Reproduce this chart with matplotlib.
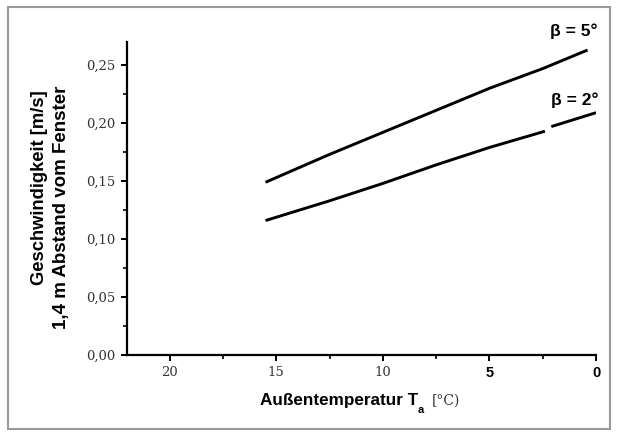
import matplotlib
matplotlib.use("Agg")
import matplotlib.pyplot as plt
from matplotlib.patches import Rectangle
from matplotlib.ticker import MultipleLocator, FixedLocator

# -----------------------------------------
# DATA
# -----------------------------------------

T_BETA5 = [15.5, 12.5, 10.0, 7.5, 5.0, 2.5, 0.4]
V_BETA5 = [0.149, 0.173, 0.192, 0.211, 0.230, 0.247, 0.263]

# beta = 2 has a small gap near 2.3 degC in the original
T_BETA2_A = [15.5, 12.5, 10.0, 7.5, 5.0, 2.4]
V_BETA2_A = [0.116, 0.133, 0.148, 0.164, 0.179, 0.193]
T_BETA2_B = [2.1, 0.0]
V_BETA2_B = [0.197, 0.209]

Y_TICKS = [0.00, 0.05, 0.10, 0.15, 0.20, 0.25]
Y_TICK_LABELS = ["0,00", "0,05", "0,10", "0,15", "0,20", "0,25"]
X_TICKS = [20, 15, 10, 5, 0]
X_TICK_LABELS = ["20", "15", "10", "5", "0"]

# -----------------------------------------
# Plot
# -----------------------------------------

fig = plt.figure(figsize=(6.19, 4.32), dpi=100)
ax = fig.add_axes([0.205, 0.178, 0.758, 0.725])

for xs, ys in [(T_BETA5, V_BETA5), (T_BETA2_A, V_BETA2_A), (T_BETA2_B, V_BETA2_B)]:
    ax.plot(xs, ys, color="black", lw=2.1, solid_capstyle="butt")

ax.set_xlim(22, 0)
ax.set_ylim(0, 0.27)

ax.spines["top"].set_visible(False)
ax.spines["right"].set_visible(False)
ax.spines["left"].set_linewidth(1.6)
ax.spines["bottom"].set_linewidth(1.6)

ax.yaxis.set_major_locator(FixedLocator(Y_TICKS))
ax.set_yticklabels(Y_TICK_LABELS, family="DejaVu Serif", fontsize=9.5, color="#333333")
ax.yaxis.set_minor_locator(MultipleLocator(0.025))
ax.xaxis.set_major_locator(FixedLocator(X_TICKS))
ax.set_xticklabels(X_TICK_LABELS, family="DejaVu Serif", fontsize=9.5, color="#333333")
ax.xaxis.set_minor_locator(MultipleLocator(2.5))

# the last two x labels are bold sans in the scan
for lab in ax.get_xticklabels()[3:]:
    lab.set_family("Liberation Sans")
    lab.set_fontweight("bold")
    lab.set_fontsize(10.5)
    lab.set_color("black")

ax.tick_params(which="major", length=4, width=1.4, direction="out", pad=4)
ax.tick_params(which="minor", length=3, width=1.2, direction="out")

# y label: two lines, not centred on each other in the scan
fig.text(0.0646, 0.565, "Geschwindigkeit [m/s]", rotation=90, ha="center", va="center",
         family="Liberation Sans", fontweight="bold", fontsize=13.2)
fig.text(0.100, 0.519, "1,4 m Abstand vom Fenster", rotation=90, ha="center", va="center",
         family="Liberation Sans", fontweight="bold", fontsize=13.5)

# x label
fig.text(0.420, 0.074, "Außentemperatur T", ha="left", va="center",
         family="Liberation Sans", fontweight="bold", fontsize=12.3)
fig.text(0.675, 0.052, "a", ha="left", va="center",
         family="Liberation Sans", fontweight="bold", fontsize=8)
fig.text(0.698, 0.072, "[°C)", ha="left", va="center",
         family="DejaVu Serif", fontsize=10, color="#333333")

ax.text(1.05, 0.279, "β = 5°", ha="center", va="center", family="Liberation Sans",
        fontweight="bold", fontsize=12.5, clip_on=False)
ax.text(1.0, 0.220, "β = 2°", ha="center", va="center", family="Liberation Sans",
        fontweight="bold", fontsize=12.5, clip_on=False)

# grey frame around the whole figure
fig.patches.append(Rectangle((0.013, 0.008), 0.973, 0.975, transform=fig.transFigure,
                             fill=False, edgecolor="#999999", lw=1.5))

fig.savefig("out.png", dpi=100)
